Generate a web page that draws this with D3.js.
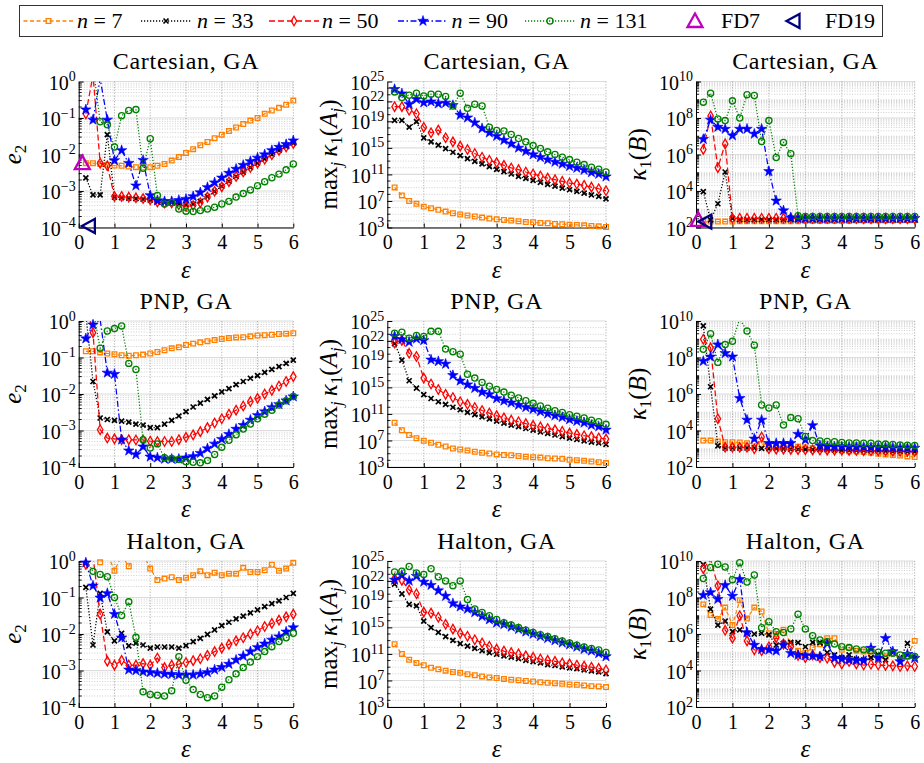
<!DOCTYPE html>
<html>
<head>
<meta charset="utf-8">
<script src="https://cdn.jsdelivr.net/npm/d3@7"></script>
<style>
  body { margin: 0; background: #fff; }
  svg { display: block; }
  text { font-family: "Liberation Serif", "Times New Roman", serif; font-weight: normal; fill: #000; }
</style>
</head>
<body>
<svg id="chart" width="924" height="763"></svg>
<script>
// Shape parameter values shared by every panel
const eps = [0.2,0.4,0.6,0.8,1.0,1.2,1.4,1.6,1.8,2.0,2.2,2.4,2.6,2.8,3.0,3.2,3.4,3.6,3.8,4.0,4.2,4.4,4.6,4.8,5.0,5.2,5.4,5.6,5.8,6.0];
const xTicks = [0,1,2,3,4,5,6];

// ---- Cartesian, GA: error e2 ----
const cartE2N7   = [5.8e-3,5.8e-3,5.5e-3,5.2e-3,5.0e-3,4.9e-3,4.7e-3,4.5e-3,4.4e-3,4.5e-3,4.9e-3,5.5e-3,6.8e-3,8.5e-3,1.1e-2,1.4e-2,1.8e-2,2.2e-2,2.8e-2,3.5e-2,4.4e-2,5.5e-2,6.8e-2,8.5e-2,0.10,0.13,0.16,0.19,0.23,0.30];
const cartE2N33  = [2.3e-3,7.8e-4,7.8e-4,3.5e-2,6.8e-4,6.6e-4,6.4e-4,6.2e-4,6.0e-4,5.6e-4,5.0e-4,4.8e-4,4.8e-4,4.5e-4,4.2e-4,4.4e-4,5.2e-4,7.0e-4,9.8e-4,1.35e-3,1.85e-3,2.5e-3,3.3e-3,4.4e-3,5.8e-3,7.6e-3,1.0e-2,1.3e-2,1.65e-2,2.05e-2];
const cartE2N50  = [0.13,1.5,5.8e-3,4.9e-3,7.1e-4,7.1e-4,6.8e-4,6.5e-4,6.2e-4,5.8e-4,5.0e-4,4.7e-4,4.7e-4,4.2e-4,3.8e-4,4.0e-4,4.8e-4,6.8e-4,9.8e-4,1.3e-3,1.8e-3,2.5e-3,3.3e-3,4.4e-3,5.8e-3,7.4e-3,9.8e-3,1.3e-2,1.6e-2,2.0e-2];
const cartE2N90  = [0.17,8.9e-2,1.2,8.9e-2,6.9e-3,1.3e-2,5.8e-3,1.4e-3,7.0e-3,7.6e-4,5.5e-4,5.2e-4,5.2e-4,5.6e-4,6.0e-4,7.1e-4,9.1e-4,1.26e-3,1.7e-3,2.3e-3,3.1e-3,4.0e-3,5.1e-3,6.5e-3,8.1e-3,1.0e-2,1.3e-2,1.6e-2,1.9e-2,2.4e-2];
const cartE2N131 = [2.0,2.7,7.9e-2,6.5e-2,1.6e-2,0.115,0.16,0.17,4.2e-3,2.7e-2,7.5e-4,4.4e-4,4.8e-4,3.2e-4,2.8e-4,2.75e-4,2.9e-4,3.2e-4,3.6e-4,4.4e-4,5.2e-4,6.8e-4,8.5e-4,1.07e-3,1.4e-3,1.8e-3,2.3e-3,2.9e-3,3.8e-3,5.5e-3];

// ---- Cartesian, GA: max_j kappa_1(A_j) ----
const cartKAN7   = [1.1e9,6.8e7,1.0e7,3.7e6,1.4e6,8.1e5,4.6e5,2.5e5,1.4e5,8.9e4,6.3e4,4.5e4,3.1e4,2.2e4,1.7e4,1.4e4,1.1e4,8.7e3,6.9e3,6.2e3,4.9e3,4.4e3,3.5e3,3.1e3,2.7e3,2.4e3,2.1e3,1.7e3,1.5e3,1.2e3];
const cartKAN33  = [1.4e19,1.4e19,1.3e18,8.7e18,3.3e16,8.1e15,2.5e15,7.9e14,2.2e14,6.9e13,2.4e13,9.5e12,3.8e12,1.5e12,5.9e11,2.6e11,1.15e11,5.1e10,2.5e10,1.26e10,6.3e9,3.1e9,1.7e9,8.7e8,4.9e8,2.7e8,1.5e8,8.5e7,4.8e7,2.1e7];
const cartKAN50  = [1.6e21,1.6e21,4.6e20,1.4e20,1.3e18,1.9e17,4.8e17,3.3e16,8.1e15,1.8e15,5.6e14,1.4e14,3.9e13,1.35e13,6.0e12,2.3e12,9.3e11,5.2e11,2.3e11,1.15e11,5.8e10,2.8e10,1.6e10,8.9e9,5.0e9,3.5e9,2.2e9,1.2e9,6.9e8,3.5e8];
const cartKAN90  = [6.9e23,1.5e23,3.7e21,2.1e22,6.6e21,9.3e21,4.7e21,5.9e21,2.6e21,8.9e19,3.5e19,6.2e18,8.5e17,1.9e17,5.9e16,1.45e16,4.1e15,1.0e15,3.1e14,9.8e13,3.9e13,1.7e13,7.6e12,3.8e12,1.7e12,9.3e11,4.7e11,2.0e11,1.15e11,4.6e10];
const cartKAN131 = [2.7e23,3.8e22,8.5e22,1.7e23,6.8e22,1.2e23,1.2e23,5.4e22,2.0e21,1.7e23,9.1e20,3.7e21,2.0e21,1.3e18,4.3e17,3.4e17,1.05e17,2.6e16,8.1e15,2.2e15,7.9e14,2.5e14,9.8e13,3.9e13,1.7e13,6.8e12,3.0e12,1.2e12,5.9e11,2.3e11];

// ---- Cartesian, GA: kappa_1(B) ----
const cartKBN7   = [2.0e2,2.1e2,2.1e2,2.1e2,2.1e2,2.2e2,2.2e2,2.2e2,2.2e2,2.2e2,2.2e2,2.2e2,2.2e2,2.2e2,2.3e2,2.3e2,2.3e2,2.3e2,2.3e2,2.3e2,2.3e2,2.4e2,2.4e2,2.4e2,2.4e2,2.4e2,2.4e2,2.5e2,2.5e2,2.5e2];
const cartKBN33  = [9.3e3,2.6e2,2.0e3,1.1e5,3.2e2,2.7e2,2.7e2,2.7e2,2.7e2,2.7e2,2.7e2,2.7e2,2.7e2,2.7e2,2.7e2,2.7e2,2.7e2,2.7e2,2.7e2,2.7e2,2.7e2,2.7e2,2.7e2,2.7e2,2.7e2,2.7e2,2.7e2,2.7e2,2.7e2,2.7e2];
const cartKBN50  = [1.9e6,1.3e8,1.9e5,3.8e6,3.2e2,3.2e2,3.2e2,3.2e2,3.2e2,3.2e2,3.2e2,3.2e2,3.2e2,3.2e2,3.1e2,3.1e2,3.1e2,3.1e2,3.1e2,3.1e2,3.1e2,3.1e2,3.0e2,3.0e2,3.0e2,3.0e2,3.0e2,3.0e2,3.0e2,3.0e2];
const cartKBN90  = [6.9e6,7.9e7,3.2e7,2.5e7,1.1e7,2.5e7,2.5e7,1.35e7,2.5e7,1.2e5,2.9e3,8.5e2,3.5e2,3.2e2,3.2e2,3.2e2,3.2e2,3.2e2,3.2e2,3.2e2,3.2e2,3.2e2,3.2e2,3.2e2,3.2e2,3.2e2,3.2e2,3.2e2,3.2e2,3.2e2];
const cartKBN131 = [7.4e8,2.3e9,8.9e7,7.2e7,8.7e8,1.0e8,1.9e9,1.7e9,5.1e6,7.2e7,6.9e5,4.6e6,1.1e6,4.4e2,4.0e2,4.0e2,4.0e2,4.0e2,4.0e2,4.0e2,4.0e2,4.0e2,4.0e2,4.0e2,4.0e2,4.0e2,4.0e2,4.0e2,4.0e2,4.0e2];

// ---- PNP, GA: error e2 ----
const pnpE2N7   = [0.148,0.148,0.138,0.129,0.123,0.115,0.112,0.115,0.120,0.129,0.141,0.158,0.178,0.19,0.22,0.24,0.26,0.28,0.30,0.32,0.34,0.355,0.36,0.38,0.40,0.41,0.42,0.44,0.45,0.46];
const pnpE2N33  = [1.5,2.2e-2,2.2e-3,2.0e-3,1.9e-3,1.8e-3,1.7e-3,1.5e-3,1.4e-3,1.2e-3,1.2e-3,1.5e-3,1.9e-3,2.5e-3,3.3e-3,4.4e-3,5.6e-3,7.1e-3,8.9e-3,1.15e-2,1.4e-2,1.8e-2,2.2e-2,2.7e-2,3.2e-2,3.9e-2,4.7e-2,5.6e-2,6.9e-2,8.5e-2];
const pnpE2N50  = [3.0,0.48,1.05e-3,6.2e-4,5.9e-4,5.6e-4,5.6e-4,5.5e-4,5.5e-4,5.1e-4,5.0e-4,5.0e-4,5.0e-4,5.6e-4,6.5e-4,7.6e-4,9.3e-4,1.2e-3,1.6e-3,2.1e-3,2.8e-3,3.6e-3,4.7e-3,6.2e-3,7.6e-3,1.0e-2,1.26e-2,1.66e-2,2.2e-2,3.0e-2];
const pnpE2N90  = [0.33,0.79,1.1,3.8e-2,3.5e-2,5.6e-4,2.8e-4,2.2e-4,3.6e-4,1.9e-4,1.8e-4,1.66e-4,1.66e-4,1.66e-4,1.8e-4,1.95e-4,2.4e-4,3.2e-4,4.3e-4,5.8e-4,7.9e-4,1.1e-3,1.4e-3,1.95e-3,2.6e-3,3.3e-3,4.3e-3,5.2e-3,6.6e-3,8.5e-3];
const pnpE2N131 = [3.0,2.0,0.18,0.53,0.62,0.73,6.9e-2,4.7e-2,5.6e-4,3.3e-4,4.3e-4,1.8e-4,1.7e-4,1.6e-4,1.4e-4,1.35e-4,1.3e-4,1.5e-4,2.2e-4,3.5e-4,5.4e-4,7.6e-4,1.1e-3,1.5e-3,2.1e-3,2.8e-3,3.6e-3,5.0e-3,6.5e-3,8.5e-3];

// ---- PNP, GA: max_j kappa_1(A_j) ----
const pnpKAN7   = [4.7e9,3.5e8,6.6e7,2.2e7,8.9e6,4.5e6,2.3e6,1.2e6,6.0e5,4.3e5,3.1e5,1.95e5,1.4e5,1.1e5,7.9e4,6.5e4,5.8e4,4.6e4,3.6e4,2.9e4,2.6e4,2.1e4,1.9e4,1.7e4,1.2e4,1.07e4,8.5e3,6.8e3,5.4e3,3.9e3];
const pnpKAN33  = [4.0e21,1.3e19,1.0e16,7.6e14,7.9e13,2.1e13,6.8e12,2.8e12,1.0e12,4.2e11,1.7e11,7.8e10,3.5e10,1.8e10,8.1e9,4.2e9,2.1e9,1.2e9,6.3e8,3.5e8,2.0e8,1.2e8,6.6e7,3.8e7,2.2e7,1.4e7,8.9e6,5.6e6,4.1e6,2.6e6];
const pnpKAN50  = [4.9e21,1.2e22,1.35e20,4.5e19,2.5e16,3.2e15,4.8e14,8.9e13,3.0e13,6.8e12,2.8e12,9.1e11,3.3e11,1.35e11,5.5e10,2.5e10,1.15e10,6.6e9,3.4e9,1.9e9,1.1e9,6.3e8,4.0e8,2.3e8,1.3e8,8.3e7,5.2e7,3.8e7,2.4e7,1.7e7];
const pnpKAN90  = [5.1e22,1.7e22,6.9e21,2.1e22,1.2e22,1.45e19,8.3e18,3.4e18,6.6e16,9.8e15,2.6e15,7.6e14,1.95e14,8.9e13,2.1e13,9.5e12,4.9e12,2.2e12,1.0e12,5.2e11,2.3e11,1.07e11,5.5e10,3.2e10,1.45e10,8.1e9,4.7e9,2.1e9,1.2e9,4.0e8];
const pnpKAN131 = [1.4e23,2.0e23,2.6e22,6.5e22,4.6e22,2.75e23,2.75e23,5.9e20,2.4e20,9.8e19,9.3e16,2.5e16,5.6e15,1.5e15,4.8e14,1.95e14,6.5e13,2.6e13,9.5e12,3.9e12,1.6e12,7.2e11,3.0e11,1.7e11,7.8e10,4.4e10,2.5e10,1.15e10,6.6e9,2.7e9];

// ---- PNP, GA: kappa_1(B) ----
const pnpKBN7   = [2.8e3,2.8e3,2.5e3,2.3e3,2.3e3,2.2e3,2.0e3,2.0e3,1.8e3,1.7e3,1.5e3,1.45e3,1.35e3,1.3e3,1.2e3,1.1e3,1.0e3,9.1e2,8.5e2,8.1e2,7.4e2,7.1e2,6.6e2,6.0e2,5.4e2,4.9e2,4.5e2,4.2e2,3.8e2,3.5e2];
const pnpKBN33  = [5.4e9,2.5e6,1.45e3,1.1e3,1.1e3,1.1e3,1.1e3,1.1e3,1.05e3,1.0e3,1.0e3,9.8e2,9.6e2,9.4e2,9.2e2,9.0e2,9.0e2,8.8e2,8.6e2,8.5e2,8.4e2,8.2e2,8.0e2,7.9e2,7.8e2,7.6e2,7.5e2,7.4e2,7.2e2,7.0e2];
const pnpKBN50  = [1.0e9,3.4e8,4.4e4,1.2e3,1.2e3,1.2e3,1.2e3,1.0e3,4.4e3,1.0e3,9.5e2,9.5e2,9.2e2,9.0e2,8.8e2,8.6e2,8.5e2,8.4e2,8.3e2,8.2e2,8.1e2,8.0e2,7.9e2,7.8e2,7.7e2,7.6e2,7.4e2,7.3e2,7.2e2,7.1e2];
const pnpKBN90  = [6.3e7,1.1e8,5.1e8,1.7e8,1.1e8,5.8e5,3.8e4,3.5e3,3.8e4,2.0e3,2.0e3,2.0e3,2.0e3,6.3e3,3.1e3,1.9e4,1.5e3,1.35e3,1.3e3,1.3e3,1.3e3,1.25e3,1.25e3,1.2e3,1.2e3,1.2e3,1.15e3,1.15e3,1.1e3,1.1e3];
const pnpKBN131 = [2.8e8,2.0e9,5.4e7,5.1e8,7.8e8,1.3e10,2.8e9,4.7e8,2.5e5,1.7e5,2.5e5,2.0e4,5.1e4,4.4e4,4.7e3,2.8e3,2.7e3,2.5e3,2.4e3,2.2e3,2.1e3,2.1e3,2.0e3,2.0e3,1.8e3,1.8e3,1.7e3,1.6e3,1.55e3,1.5e3];

// ---- Halton, GA: error e2 ----
const halE2N7   = [1.8,1.6,0.92,1.6,0.54,1.4,0.72,2.0,1.6,0.62,0.30,0.33,0.36,0.30,0.35,0.41,0.52,0.41,0.48,0.41,0.45,0.45,0.65,0.50,0.50,0.56,0.79,0.54,0.62,0.89];
const halE2N33  = [0.19,5.0e-3,0.13,1.15e-2,6.5e-3,1.05e-2,4.7e-3,5.6e-3,5.0e-3,4.1e-3,4.4e-3,4.4e-3,4.4e-3,4.1e-3,4.8e-3,6.2e-3,7.6e-3,9.8e-3,1.3e-2,1.7e-2,2.1e-2,2.6e-2,3.1e-2,3.8e-2,4.6e-2,5.6e-2,6.8e-2,8.1e-2,0.10,0.13];
const halE2N50  = [0.81,1.3,3.5e-2,1.8e-3,1.4e-3,1.9e-3,1.4e-3,1.4e-3,1.55e-3,1.4e-3,2.2e-3,1.2e-3,1.4e-3,1.5e-3,1.66e-3,1.86e-3,2.1e-3,2.6e-3,3.3e-3,4.1e-3,5.2e-3,6.5e-3,7.9e-3,1.0e-2,1.23e-2,1.6e-2,1.95e-2,2.4e-2,2.95e-2,3.5e-2];
const halE2N90  = [0.9,0.21,9.8e-2,0.13,3.5e-2,7.9e-3,1.05e-3,1.0e-3,9.3e-4,8.9e-4,8.5e-4,8.1e-4,7.9e-4,7.6e-4,7.6e-4,7.6e-4,8.1e-4,8.9e-4,1.05e-3,1.23e-3,1.5e-3,1.95e-3,2.5e-3,3.3e-3,4.3e-3,5.4e-3,6.9e-3,8.5e-3,1.15e-2,1.5e-2];
const halE2N131 = [1.1,0.52,0.43,0.37,0.10,3.2e-2,7.6e-2,8.1e-3,2.6e-4,2.2e-4,2.1e-4,2.0e-4,2.8e-4,2.4e-3,5.4e-4,3.0e-4,2.2e-4,1.8e-4,2.0e-4,3.5e-4,5.6e-4,8.1e-4,1.2e-3,1.7e-3,2.4e-3,3.3e-3,4.5e-3,6.2e-3,7.9e-3,1.05e-2];

// ---- Halton, GA: max_j kappa_1(A_j) ----
const halKAN7   = [2.8e12,1.0e11,1.35e10,4.4e9,2.0e9,8.1e8,4.7e8,3.0e8,1.9e8,1.4e8,8.9e7,6.3e7,4.1e7,2.9e7,2.3e7,1.7e7,1.3e7,1.07e7,8.5e6,6.8e6,5.4e6,4.4e6,3.9e6,3.1e6,2.5e6,2.2e6,1.8e6,1.4e6,1.26e6,1.0e6];
const halKAN33  = [3.2e21,1.15e20,2.9e18,1.7e18,8.7e15,9.3e14,1.7e14,4.1e13,1.07e13,3.5e12,1.45e12,6.6e11,3.0e11,1.55e11,8.9e10,5.1e10,3.2e10,1.9e10,1.07e10,6.9e9,4.4e9,2.5e9,1.8e9,1.15e9,8.1e8,5.9e8,3.8e8,2.7e8,1.9e8,1.1e8];
const halKAN50  = [2.4e22,1.2e22,4.4e20,1.15e20,2.0e17,1.4e17,3.3e16,2.9e15,5.4e14,1.26e14,4.6e13,1.35e13,4.5e12,1.45e12,5.2e11,2.7e11,1.55e11,1.0e11,5.1e10,3.0e10,1.7e10,1.07e10,7.6e9,4.4e9,3.2e9,2.0e9,1.45e9,1.0e9,6.6e8,3.8e8];
const halKAN90  = [1.4e22,7.4e22,1.0e22,5.2e22,7.1e21,2.3e21,3.5e20,5.2e19,4.0e18,1.3e18,6.0e17,1.8e17,4.7e16,1.5e16,5.0e15,2.9e15,1.2e15,5.4e14,2.2e14,1.0e14,4.6e13,2.3e13,1.07e13,4.9e12,2.5e12,1.15e12,5.2e11,3.0e11,1.2e11,4.1e10];
const halKAN131 = [2.2e23,2.8e23,1.5e24,1.6e23,9.3e22,6.9e23,4.3e22,1.0e22,1.9e21,1.0e22,1.55e19,6.0e17,1.8e17,5.8e16,1.5e16,5.0e15,2.3e15,9.3e14,3.8e14,1.7e14,7.9e13,4.1e13,1.9e13,8.7e12,4.5e12,2.0e12,1.15e12,6.6e11,3.8e11,1.7e11];

// ---- Halton, GA: kappa_1(B) ----
const halKBN7   = [4.2e7,1.1e7,6.6e6,2.8e7,3.1e6,7.1e7,7.0e6,2.8e7,1.7e7,1.1e6,1.0e6,1.7e6,3.1e5,1.2e5,9.5e4,1.8e5,2.7e5,5.8e5,5.8e5,1.35e5,1.8e5,1.2e5,1.1e5,7.8e4,5.1e4,5.8e4,8.9e4,4.7e4,5.8e4,4.2e5];
const halKBN33  = [6.3e9,2.3e7,3.1e6,5.1e6,1.35e6,1.7e6,1.1e6,1.0e6,1.1e6,8.9e5,2.5e5,3.1e5,3.5e5,3.4e5,2.0e5,3.5e5,3.4e5,9.5e4,7.1e4,5.1e4,7.1e4,4.2e4,3.8e4,5.1e4,7.1e4,3.8e4,1.0e5,4.4e4,3.1e5,4.7e4];
const halKBN50  = [3.8e9,1.2e10,4.4e8,1.6e6,5.9e5,1.0e7,4.2e5,1.35e5,1.2e5,2.0e5,6.3e5,2.8e5,2.0e5,6.6e4,5.1e4,7.1e4,5.1e4,4.7e4,2.8e4,2.3e4,3.1e4,2.3e4,2.0e4,2.2e4,2.0e4,1.9e4,1.8e4,1.65e4,1.8e4,1.65e4];
const halKBN90  = [1.35e8,1.9e8,8.1e7,4.7e8,1.2e8,1.0e9,1.2e6,2.5e5,1.45e5,1.35e5,1.2e5,2.5e5,8.9e4,7.1e4,6.6e4,6.3e4,5.8e4,3.1e5,4.7e4,4.4e4,3.8e4,3.6e4,3.5e4,1.7e5,4.7e4,5.8e5,1.1e5,3.1e4,7.8e4,4.7e4];
const halKBN131 = [1.1e9,4.4e9,6.6e9,4.7e9,9.5e8,8.1e9,7.1e8,1.7e9,2.2e6,4.7e6,1.35e6,1.2e6,1.9e6,1.2e7,1.9e6,8.1e5,4.7e5,3.8e5,2.8e5,2.0e5,1.8e5,1.5e5,1.35e5,1.2e5,1.0e5,8.9e4,8.9e4,7.1e4,6.3e4,5.8e4];

// Reference finite-difference points (shape parameter, value)
const fd7Cart  = [0.1, 5.8e-3];
const fd19Cart = [0.27, 1.1e-4];
const fd7KB    = [0.06, 2.6e2];
const fd19KB   = [0.24, 2.1e2];

// Series labels (n = number of nodes) and their look
const nodeCounts = ["7", "33", "50", "90", "131"];
const seriesLook = [
  { color: "#ff8000", dash: "4,2.5",         marker: "square"  },
  { color: "#000000", dash: "1.2,1.8",       marker: "times"   },
  { color: "#ff0000", dash: "6,3",           marker: "diamond" },
  { color: "#0000ff", dash: "6,2.5,1.5,2.5", marker: "star"    },
  { color: "#008000", dash: "1.2,1.8",       marker: "circle"  }
];

// Y-axis families
const yKinds = {
  e2: { domain: [1e-4, 1],    labels: [0, -1, -2, -3, -4],         fine: true  },
  kA: { domain: [1e3, 1e25],  labels: [3, 7, 11, 15, 19, 22, 25],  fine: false },
  kB: { domain: [1e2, 1e10],  labels: [2, 4, 6, 8, 10],            fine: true  }
};

const panels = [
  { title: "Cartesian, GA", kind: "e2", series: [cartE2N7, cartE2N33, cartE2N50, cartE2N90, cartE2N131], fd: [fd7Cart, fd19Cart] },
  { title: "Cartesian, GA", kind: "kA", series: [cartKAN7, cartKAN33, cartKAN50, cartKAN90, cartKAN131], fd: null },
  { title: "Cartesian, GA", kind: "kB", series: [cartKBN7, cartKBN33, cartKBN50, cartKBN90, cartKBN131], fd: [fd7KB, fd19KB] },
  { title: "PNP, GA",       kind: "e2", series: [pnpE2N7, pnpE2N33, pnpE2N50, pnpE2N90, pnpE2N131], fd: null },
  { title: "PNP, GA",       kind: "kA", series: [pnpKAN7, pnpKAN33, pnpKAN50, pnpKAN90, pnpKAN131], fd: null },
  { title: "PNP, GA",       kind: "kB", series: [pnpKBN7, pnpKBN33, pnpKBN50, pnpKBN90, pnpKBN131], fd: null },
  { title: "Halton, GA",    kind: "e2", series: [halE2N7, halE2N33, halE2N50, halE2N90, halE2N131], fd: null },
  { title: "Halton, GA",    kind: "kA", series: [halKAN7, halKAN33, halKAN50, halKAN90, halKAN131], fd: null },
  { title: "Halton, GA",    kind: "kB", series: [halKBN7, halKBN33, halKBN50, halKBN90, halKBN131], fd: null }
];

// ---------------- layout ----------------
const colX = [[78.7, 293.3], [387.3, 606], [696, 914.7]];
const rowTop = [81.5, 321, 561];
const plotH = 146;
const yLabelBaseline = [-58, -50, -50];
const SERIF = '"Liberation Serif", "Times New Roman", serif';

const svg = d3.select("#chart");
const FD7_COLOR = "#bf00bf";
const FD19_COLOR = "#00007f";

function markerPath(kind) {
  switch (kind) {
    case "square":  return d3.symbol(d3.symbolSquare, 22)();
    case "times":   return d3.symbol(d3.symbolTimes, 18)();
    case "diamond": return d3.symbol(d3.symbolDiamond, 26)();
    case "star":    return d3.symbol(d3.symbolStar, 34)();
    case "circle":  return d3.symbol(d3.symbolCircle, 30)();
  }
}
function styleMarker(sel, look) {
  if (look.marker === "star") {
    sel.attr("fill", look.color).attr("stroke", look.color).attr("stroke-width", 0.6);
  } else if (look.marker === "times") {
    sel.attr("fill", "none").attr("stroke", look.color).attr("stroke-width", 1.7);
  } else {
    sel.attr("fill", "none").attr("stroke", look.color).attr("stroke-width", 1.3);
  }
}
const triUp = "M0,-7.5L7.5,6L-7.5,6Z";
const triLeft = "M-6.5,0L6.5,-7L6.5,7Z";

function powLabel(textSel, exp) {
  textSel.text(null);
  textSel.append("tspan").text("10");
  textSel.append("tspan").attr("dy", -8.5).attr("font-size", 14)
    .text(exp < 0 ? "\u2212" + (-exp) : String(exp));
}

panels.forEach((p, i) => {
  const c = i % 3, r = Math.floor(i / 3);
  const [x0, x1] = colX[c];
  const y0 = rowTop[r], y1 = y0 + plotH;
  const k = yKinds[p.kind];
  const x = d3.scaleLinear().domain([0, 6]).range([x0, x1]);
  const y = d3.scaleLog().domain(k.domain).range([y1, y0]);
  const g = svg.append("g");

  const loExp = Math.round(Math.log10(k.domain[0]));
  const hiExp = Math.round(Math.log10(k.domain[1]));
  const minorVals = [];
  for (let e = loExp; e < hiExp; e++) {
    if (!k.labels.includes(e)) minorVals.push(Math.pow(10, e));
    if (k.fine) for (let m = 2; m <= 9; m++) minorVals.push(m * Math.pow(10, e));
  }
  if (!k.labels.includes(hiExp)) minorVals.push(Math.pow(10, hiExp));
  const majorVals = k.labels.map(e => Math.pow(10, e));

  // grid
  const grid = g.append("g");
  grid.selectAll(".minor").data(minorVals).join("line")
    .attr("x1", x0).attr("x2", x1)
    .attr("y1", d => y(d)).attr("y2", d => y(d))
    .attr("stroke", "#c4c4c4").attr("stroke-width", 0.8).attr("stroke-dasharray", "1,1.6");
  grid.selectAll(".major").data(majorVals).join("line")
    .attr("x1", x0).attr("x2", x1)
    .attr("y1", d => y(d)).attr("y2", d => y(d))
    .attr("stroke", "#dcdcdc").attr("stroke-width", 1.1);
  grid.selectAll(".vx").data(xTicks.slice(1)).join("line")
    .attr("x1", d => x(d)).attr("x2", d => x(d))
    .attr("y1", y0).attr("y2", y1)
    .attr("stroke", "#a8a8a8").attr("stroke-width", 0.9).attr("stroke-dasharray", "1.2,1.6");

  // axes
  const xAxis = d3.axisBottom(x).tickValues(xTicks).tickSizeInner(-4).tickSizeOuter(0).tickPadding(7.5)
    .tickFormat(d3.format("d"));
  const gx = g.append("g").attr("transform", `translate(0,${y1})`).call(xAxis)
    .attr("font-family", SERIF);
  gx.select(".domain").attr("stroke", "#000").attr("stroke-width", 1);
  gx.selectAll("text").attr("font-size", 20);

  const yAxis = d3.axisLeft(y).tickValues(majorVals).tickSizeInner(-5).tickSizeOuter(0).tickPadding(4)
    .tickFormat(() => "");
  const gy = g.append("g").attr("transform", `translate(${x0},0)`).call(yAxis)
    .attr("font-family", SERIF);
  gy.select(".domain").attr("stroke", "#000").attr("stroke-width", 1);
  gy.selectAll(".tick text").each(function (d) {
    const t = d3.select(this);
    t.attr("font-size", 20).attr("dy", "0.38em").attr("x", -3);
    powLabel(t, Math.round(Math.log10(d)));
  });
  gy.selectAll(".minor-tick").data(minorVals).join("line")
    .attr("x1", 0).attr("x2", 3)
    .attr("y1", d => y(d)).attr("y2", d => y(d))
    .attr("stroke", "#000").attr("stroke-width", 0.9);

  // title
  g.append("text").attr("x", (x0 + x1) / 2).attr("y", y0 - 12.5)
    .attr("text-anchor", "middle").attr("font-size", 24).attr("letter-spacing", 0.7).text(p.title);

  // x label
  g.append("text").attr("x", (x0 + x1) / 2).attr("y", y1 + 50)
    .attr("text-anchor", "middle").attr("font-size", 25).attr("font-style", "italic").text("\u03b5");

  // y label
  const yl = g.append("text")
    .attr("transform", `translate(${x0 + yLabelBaseline[c]},${(y0 + y1) / 2}) rotate(-90)`)
    .attr("text-anchor", "middle").attr("font-size", 25);
  if (p.kind === "e2") {
    yl.append("tspan").attr("font-style", "italic").text("e");
    yl.append("tspan").attr("font-size", 17).attr("dy", 5).text("2");
  } else if (p.kind === "kA") {
    yl.append("tspan").text("max");
    yl.append("tspan").attr("font-size", 17).attr("font-style", "italic").attr("dy", 5).text("j");
    yl.append("tspan").attr("dy", -5).attr("font-style", "italic").text("\u2009\u03ba");
    yl.append("tspan").attr("font-size", 17).attr("dy", 5).text("1");
    yl.append("tspan").attr("dy", -5).text("(");
    yl.append("tspan").attr("font-style", "italic").text("A");
    yl.append("tspan").attr("font-size", 17).attr("font-style", "italic").attr("dy", 5).text("j");
    yl.append("tspan").attr("dy", -5).text(")");
  } else {
    yl.append("tspan").attr("font-style", "italic").text("\u03ba");
    yl.append("tspan").attr("font-size", 17).attr("dy", 5).text("1");
    yl.append("tspan").attr("dy", -5).text("(");
    yl.append("tspan").attr("font-style", "italic").text("B");
    yl.append("tspan").text(")");
  }

  // series
  const clipId = "clip" + i;
  svg.append("clipPath").attr("id", clipId).append("rect")
    .attr("x", x0).attr("y", y0).attr("width", x1 - x0).attr("height", plotH);
  const plotG = g.append("g");
  const line = d3.line().x(d => x(d[0])).y(d => y(d[1]));
  const [lo, hi] = k.domain;
  p.series.forEach((vals, s) => {
    const look = seriesLook[s];
    const pts = eps.map((e, j) => [e, vals[j]]);
    plotG.append("path").datum(pts).attr("d", line)
      .attr("clip-path", `url(#${clipId})`)
      .attr("fill", "none").attr("stroke", look.color).attr("stroke-width", 1.25)
      .attr("stroke-dasharray", look.dash);
    const inside = pts.filter(d => d[1] >= lo * 0.999 && d[1] <= hi * 1.001);
    plotG.append("g").selectAll("path").data(inside).join("path")
      .attr("transform", d => `translate(${x(d[0])},${y(d[1])})`)
      .attr("d", markerPath(look.marker))
      .call(styleMarker, look);
  });

  if (p.fd) {
    const [a, b] = p.fd;
    plotG.append("path").attr("d", triUp)
      .attr("transform", `translate(${x(a[0])},${y(a[1])})`)
      .attr("fill", "none").attr("stroke", FD7_COLOR).attr("stroke-width", 2.3);
    plotG.append("path").attr("d", triLeft)
      .attr("transform", `translate(${x(b[0])},${y(b[1])})`)
      .attr("fill", "none").attr("stroke", FD19_COLOR).attr("stroke-width", 2.3);
  }
});

// ---------------- legend ----------------
const legend = svg.append("g");
legend.append("rect").attr("x", 19.5).attr("y", 5.5).attr("width", 863).attr("height", 31)
  .attr("fill", "#fff").attr("stroke", "#333").attr("stroke-width", 1);
const legendX = [23.5, 141, 269, 398, 525];
const legendTextX = [77, 197, 322, 451.5, 580];
const legY = 21;
nodeCounts.forEach((n, s) => {
  const look = seriesLook[s];
  legend.append("line").attr("x1", legendX[s]).attr("x2", legendX[s] + 50)
    .attr("y1", legY).attr("y2", legY)
    .attr("stroke", look.color).attr("stroke-width", 1.4).attr("stroke-dasharray", look.dash);
  legend.append("path").attr("transform", `translate(${legendX[s] + 25},${legY})`)
    .attr("d", markerPath(look.marker)).call(styleMarker, look);
  const t = legend.append("text").attr("x", legendTextX[s]).attr("y", legY + 7).attr("font-size", 22);
  t.append("tspan").attr("font-style", "italic").text("n");
  t.append("tspan").text(" = " + n);
});
legend.append("path").attr("d", triUp).attr("transform", `translate(695,${legY})`)
  .attr("fill", "none").attr("stroke", FD7_COLOR).attr("stroke-width", 2.3);
legend.append("text").attr("x", 721).attr("y", legY + 7).attr("font-size", 22).text("FD7");
legend.append("path").attr("d", triLeft).attr("transform", `translate(793,${legY})`)
  .attr("fill", "none").attr("stroke", FD19_COLOR).attr("stroke-width", 2.3);
legend.append("text").attr("x", 825).attr("y", legY + 7).attr("font-size", 22).text("FD19");
</script>
</body>
</html>
